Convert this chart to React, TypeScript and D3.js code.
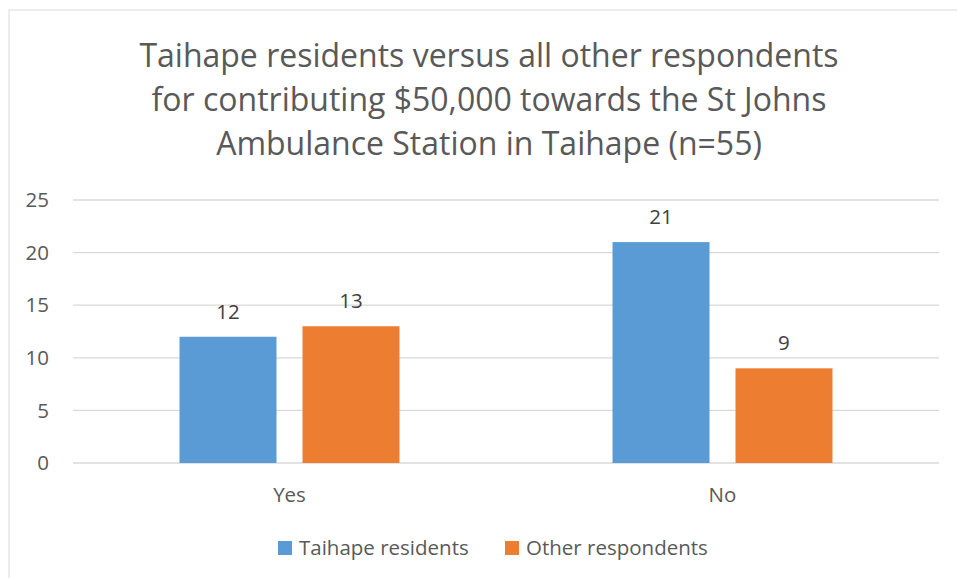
import * as d3 from "d3";

const categories = ["Yes", "No"];
const seriesNames = ["Taihape residents", "Other respondents"];
const taihapeValues = [12, 21];
const otherValues = [13, 9];
const yTicks = [0, 5, 10, 15, 20, 25];
const titleLines = [
  "Taihape residents versus all other respondents",
  "for contributing $50,000 towards the St Johns",
  "Ambulance Station in Taihape (n=55)",
];

const colors = ["#5B9BD5", "#ED7D31"];
const font = "'Open Sans', sans-serif";

export default function App() {
  const width = 957;
  const height = 578;
  const left = 73;
  const right = 939;
  const top = 200;
  const bottom = 463;

  const y = d3.scaleLinear().domain([0, 25]).range([bottom, top]);
  const x0 = d3
    .scaleBand()
    .domain(categories)
    .range([left, right])
    .paddingInner(0.492)
    .paddingOuter(0.246);
  const x1 = d3
    .scaleBand()
    .domain(seriesNames)
    .range([0, x0.bandwidth()])
    .paddingInner(0.2114);

  const seriesValues = [taihapeValues, otherValues];

  return (
    <svg
      width={width}
      height={height}
      style={{ position: "absolute", left: 0, top: 0, background: "#fff" }}
      fontFamily={font}
    >
      <rect x={9} y={10} width={1000} height={600} fill="#fff" stroke="#D9D9D9" strokeWidth={1} />

      {titleLines.map((t, i) => (
        <text key={i} x={489} y={67 + i * 44} textAnchor="middle" fontSize={32} fill="#595959">
          {t}
        </text>
      ))}

      {yTicks.map((t) => (
        <g key={t}>
          <line x1={left} x2={right} y1={y(t)} y2={y(t)} stroke="#D9D9D9" strokeWidth={1.3} />
          <text x={49} y={y(t)} dy="0.35em" textAnchor="end" fontSize={20.5} fill="#595959">
            {t}
          </text>
        </g>
      ))}

      {seriesNames.map((s, si) =>
        categories.map((c, ci) => {
          const v = seriesValues[si][ci];
          const bx = (x0(c) ?? 0) + (x1(s) ?? 0);
          return (
            <g key={s + c}>
              <rect x={bx} y={y(v)} width={x1.bandwidth()} height={y(0) - y(v)} fill={colors[si]} />
              <text
                x={bx + x1.bandwidth() / 2}
                y={y(v) - 18}
                textAnchor="middle"
                fontSize={20.5}
                fill="#404040"
              >
                {v}
              </text>
            </g>
          );
        })
      )}

      {categories.map((c) => (
        <text
          key={c}
          x={(x0(c) ?? 0) + x0.bandwidth() / 2}
          y={502}
          textAnchor="middle"
          fontSize={20.5}
          fill="#595959"
        >
          {c}
        </text>
      ))}

      {seriesNames.map((s, i) => {
        const lx = i === 0 ? 278 : 505;
        return (
          <g key={s}>
            <rect x={lx} y={541} width={14} height={14} fill={colors[i]} />
            <text x={lx + 21} y={555} fontSize={20.5} fill="#595959">
              {s}
            </text>
          </g>
        );
      })}
    </svg>
  );
}
